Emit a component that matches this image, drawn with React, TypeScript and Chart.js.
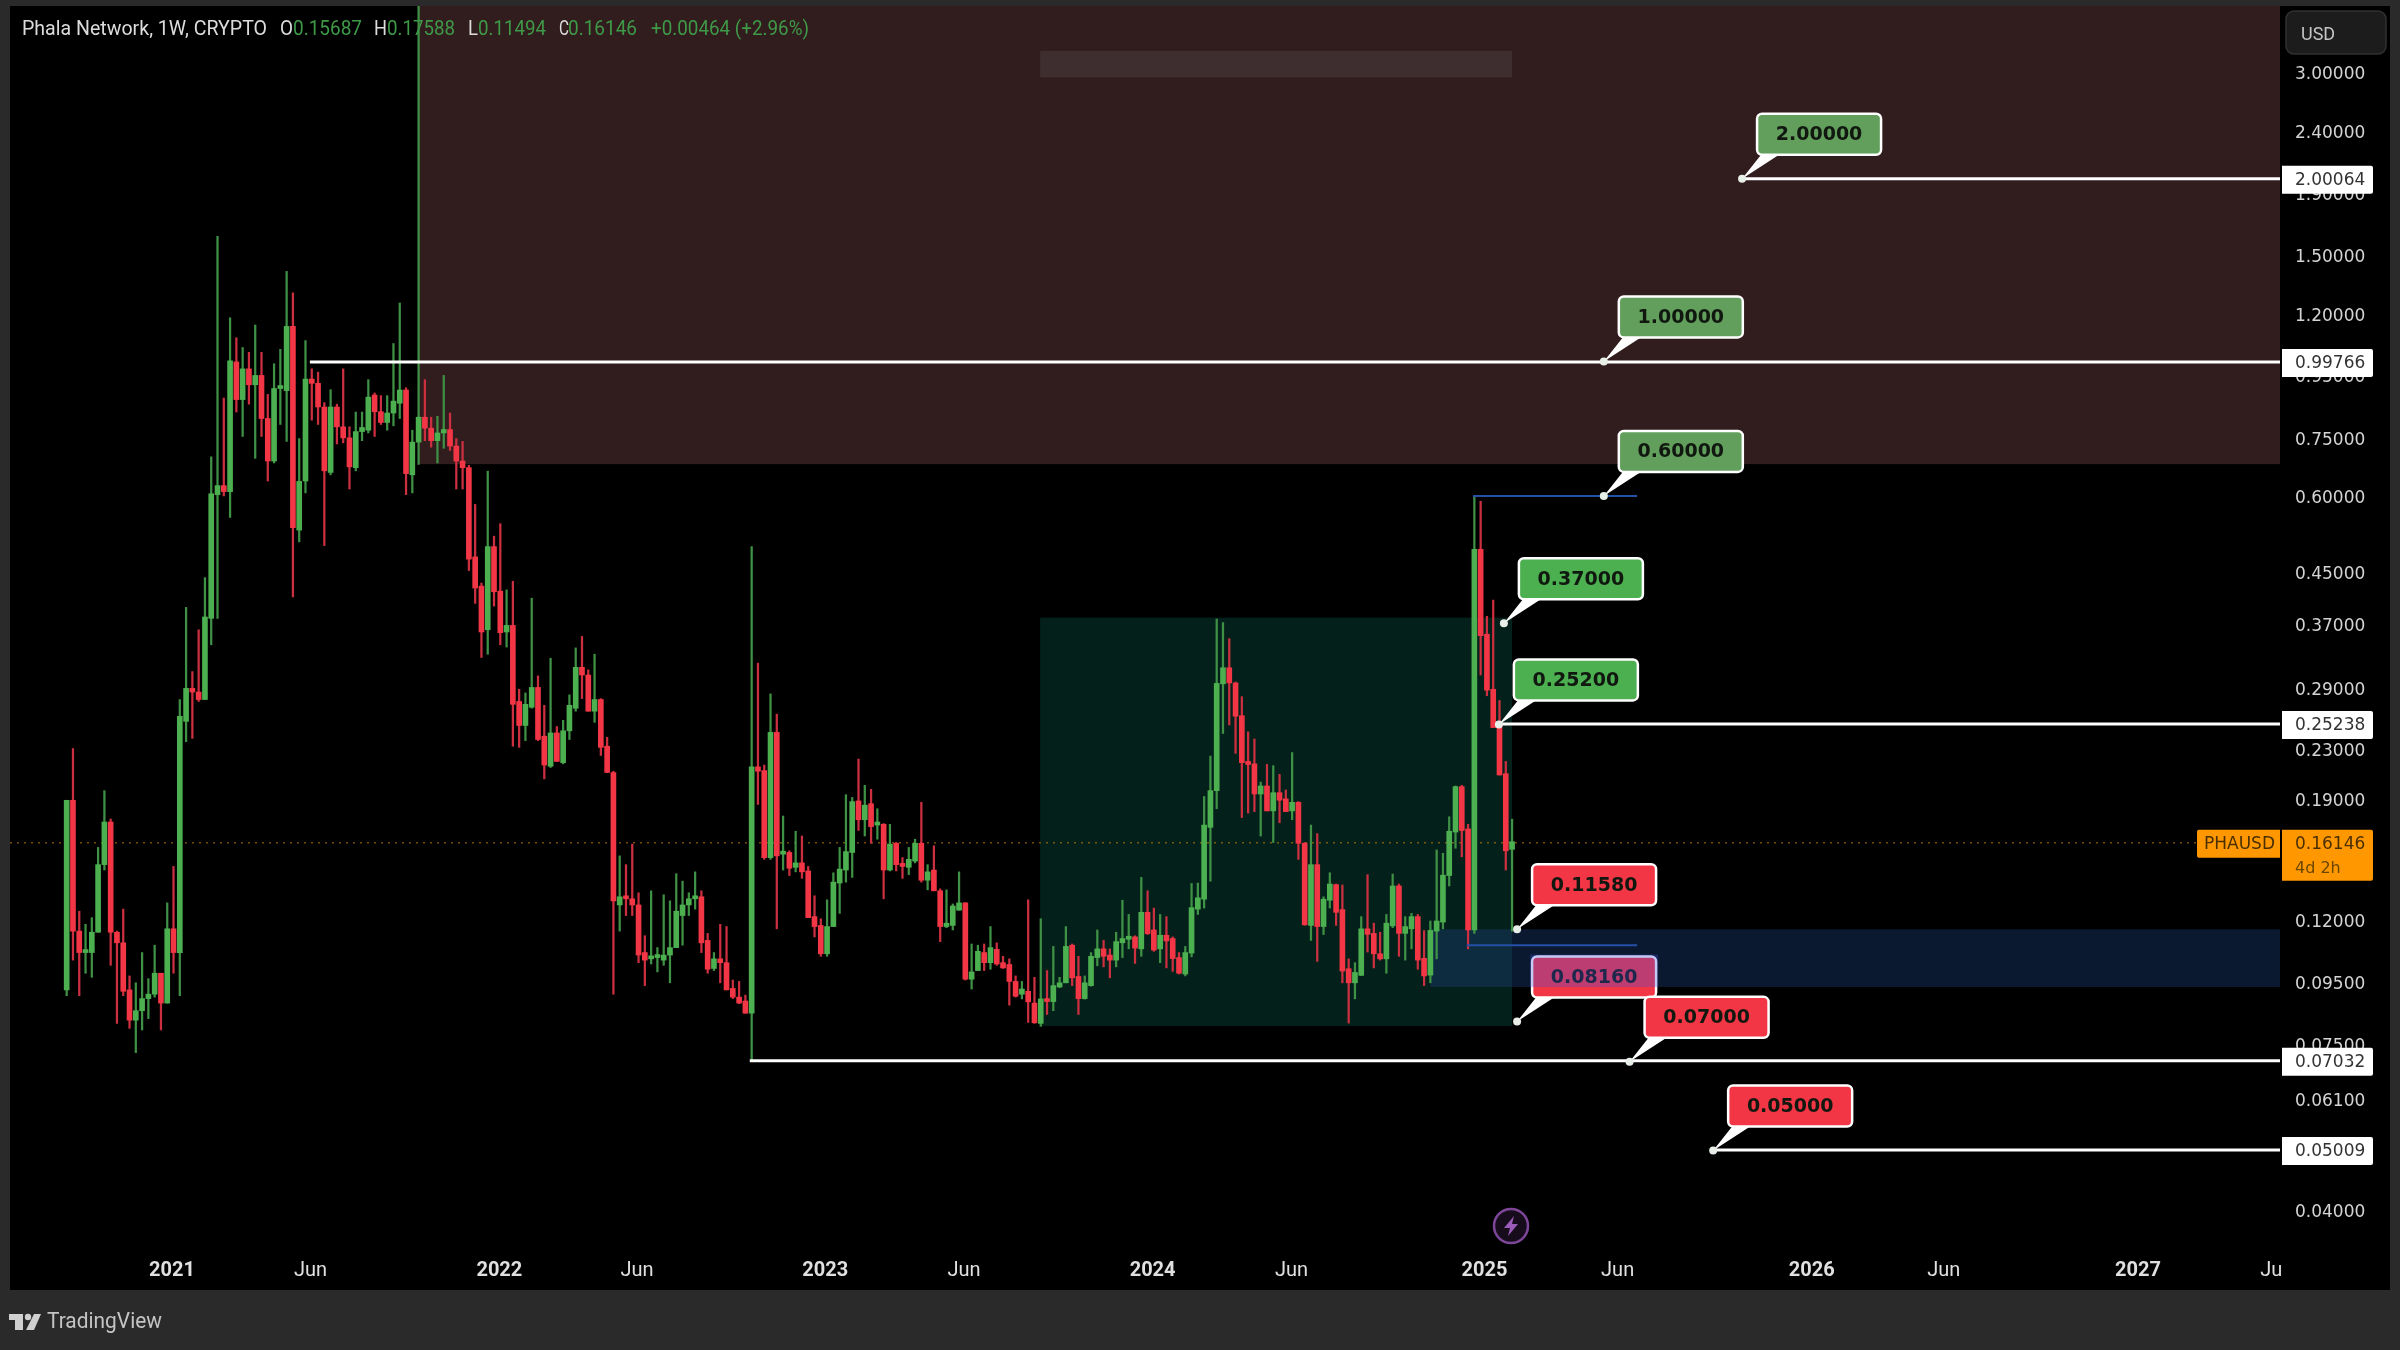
import React, { useEffect, useRef } from "react";
import { Chart, registerables } from "chart.js";

Chart.register(...registerables);

const opens = [
  .092,.189,.115,.106,.106,.1145,.148,.174,.1145,.110,
  .092,.082,.085,.089,.0905,.098,.0875,.116,.106,.255,
  .289,.285,.277,.377,.603,.624,.61,.998,.865,.972,
  .915,.948,.805,.685,.902,.895,1.142,.527,.635,.935,
  .92,.841,.656,.841,.780,.748,.668,.766,.770,.880,
  .826,.793,.822,.853,.897,.650,.736,.809,.776,.740,
  .762,.772,.725,.685,.668,.476,.426,.361,.495,.418,
  .358,.367,.275,.251,.269,.290,.241,.215,.244,.218,
  .246,.268,.313,.304,.265,.277,.232,.21,.127,.131,
  .130,.127,.106,.1035,.104,.103,.105,.108,.122,.127,
  .130,.131,.111,.0998,.1035,.102,.0925,.0895,.0882,.0842,
  .2145,.2115,.152,.2445,.154,.155,.1465,.149,.1445,.1215,
  .1175,.1055,.117,.138,.145,.155,.1885,.1755,.1865,.172,
  .1725,.145,.1605,.148,.1465,.15,.1605,.1395,.145,.134,
  .117,.1175,.1245,.128,.0958,.099,.106,.102,.1073,.102,
  .1013,.095,.0905,.0915,.0875,.081,.0885,.088,.093,.0945,
  .109,.0968,.089,.0935,.104,.1075,.105,.103,.11,.1115,
  .1125,.1075,.1235,.1155,.1075,.1132,.1118,.104,.0977,.1058,
  .125,.1298,.1705,.196,.294,.3125,.295,.2605,.2185,.217,
  .1935,.1995,.1815,.1945,.19,.1815,.1875,.1605,.1175,.148,
  .117,.1293,.1372,.1248,.0997,.0945,.0972,.116,.114,.1055,
  .1035,.1173,.1365,.114,.116,.1215,.1037,.0973,.115,.119,
  .142,.1675,.199,.1695,.1155,.49,.355,.288,.255,.209,
  .15687,
];
const highs = [
  .189,.230,.124,.118,.121,.158,.196,.176,.115,.125,
  .097,.0945,.106,.096,.109,.098,.128,.147,.277,.393,
  .308,.361,.440,.696,1.607,.870,1.180,1.094,1.054,1.035,
  1.148,1.035,.882,.991,1.047,1.407,1.297,.746,1.082,.972,
  .960,.855,.898,.850,.972,.780,.825,.825,.933,.887,
  .878,.878,1.070,1.248,.905,.770,3.9,.933,.809,.812,
  .948,.822,.746,.738,.674,.581,.431,.659,.515,.540,
  .420,.434,.288,.284,.407,.303,.271,.324,.25,.256,
  .282,.337,.352,.31,.329,.278,.240,.211,.153,.148,
  .160,.133,.113,.134,.108,.132,.129,.143,.139,.133,
  .144,.134,.114,.106,.118,.117,.0955,.095,.0902,.495,
  .318,.216,.283,.262,.178,.156,.168,.165,.147,.1315,
  .1205,.1295,.1435,.158,.193,.191,.221,.2,.197,.183,
  .173,.1725,.161,.152,.158,.163,.1875,.148,.159,.135,
  .1345,.1275,.144,.1282,.1095,.109,.1095,.117,.110,.1045,
  .1035,.097,.095,.1295,.0965,.1205,.099,.1085,.0965,.117,
  .1095,.1045,.097,.106,.1155,.111,.1075,.1145,.1293,.1225,
  .113,.141,.134,.1255,.1225,.1215,.1125,.106,.1085,.1378,
  .138,.1917,.2235,.376,.371,.349,.296,.28,.245,.2385,
  .2025,.2165,.2155,.2085,.1965,.2265,.188,.161,.172,.1665,
  .131,.1435,.1375,.137,.1035,.102,.1215,.1425,.1185,.1145,
  .1225,.1428,.1375,.1215,.123,.1225,.1152,.1195,.1565,.1545,
  .1775,.1995,.2,.1725,.60,.588,.380,.404,.276,.219,
  .17588,
];
const lows = [
  .090,.103,.090,.098,.0965,.1145,.145,.101,.081,.090,
  .0795,.0725,.079,.0825,.0895,.079,.0875,.098,.090,.236,
  .239,.275,.277,.341,.377,.600,.553,.825,.752,.850,
  .692,.752,.635,.680,.787,.738,.409,.504,.607,.800,
  .787,.497,.650,.731,.734,.616,.660,.740,.762,.752,
  .787,.770,.783,.805,.603,.607,.676,.740,.722,.680,
  .719,.713,.616,.616,.452,.399,.325,.329,.395,.341,
  .338,.232,.231,.237,.268,.237,.205,.214,.219,.217,
  .238,.265,.278,.265,.254,.224,.21,.0905,.115,.122,
  .122,.102,.0935,.1015,.0985,.101,.0945,.108,.109,.122,
  .125,.106,.098,.099,.0945,.092,.089,.0873,.0842,.0703,
  .186,.151,.151,.116,.145,.142,.144,.1405,.121,.1125,
  .1045,.1045,.117,.123,.1385,.141,.1685,.165,.1605,.163,
  .130,.1445,.1445,.1405,.1425,.149,.1385,.1345,.134,.1105,
  .1165,.1155,.1245,.0955,.0923,.099,.099,.0995,.101,.0998,
  .0868,.0895,.0889,.0813,.081,.0801,.0838,.085,.0928,.0945,
  .0935,.0838,.0888,.0933,.1008,.1004,.0963,.1004,.104,.1075,
  .1017,.1045,.1135,.1065,.102,.100,.0987,.0977,.097,.1043,
  .1225,.1255,.139,.183,.2435,.2515,.2258,.177,.18,.181,
  .165,.1815,.161,.1735,.181,.1755,.151,.1175,.111,.1025,
  .1135,.1255,.1175,.0945,.0811,.0889,.0972,.1062,.100,.103,
  .098,.1165,.1045,.103,.1075,.0995,.0935,.0945,.1035,.116,
  .1365,.1575,.1525,.1075,.114,.304,.281,.249,.208,.145,
  .11494,
];
const closes = [
  .189,.115,.106,.1065,.1145,.148,.174,.1145,.110,.0915,
  .082,.085,.089,.0905,.098,.0875,.116,.106,.26,.289,
  .285,.277,.379,.605,.624,.61,1.002,.865,.972,.915,
  .948,.805,.685,.902,.905,1.142,.532,.634,.935,.92,
  .841,.660,.841,.780,.748,.670,.766,.778,.873,.826,
  .793,.822,.860,.897,.653,.736,.809,.776,.740,.762,
  .772,.725,.685,.668,.472,.423,.358,.495,.417,.357,
  .367,.272,.251,.272,.290,.238,.216,.244,.219,.246,
  .271,.313,.304,.265,.277,.231,.21,.129,.131,.130,
  .127,.105,.103,.1042,.105,.105,.108,.124,.127,.130,
  .1305,.110,.0995,.1035,.102,.092,.0895,.0875,.0842,.2145,
  .211,.152,.2445,.153,.155,.146,.149,.144,.121,.117,
  .1055,.117,.1385,.1455,.1555,.188,.1755,.1855,.171,.1725,
  .145,.160,.148,.147,.151,.1605,.1395,.144,.134,.117,
  .1185,.1265,.128,.0958,.0985,.1065,.102,.108,.1015,.1,
  .095,.0898,.0923,.0879,.0812,.0889,.088,.0935,.0945,.1085,
  .0963,.089,.0945,.1045,.1075,.1045,.103,.1105,.1118,.1125,
  .1078,.1235,.1139,.107,.1132,.1108,.1036,.098,.106,.1257,
  .1305,.172,.196,.2945,.3125,.295,.26,.218,.2165,.1935,
  .1995,.1815,.1945,.189,.181,.1875,.1605,.1178,.148,.117,
  .1298,.1375,.1235,.0988,.0945,.0983,.116,.1136,.1055,.1035,
  .1185,.1365,.114,.117,.1215,.103,.097,.1153,.1195,.1422,
  .168,.199,.1685,.1155,.49,.353,.287,.249,.208,.156,
  .16146,
];

// Price axis
const priceTicks = [3, 2.4, 1.9, 1.5, 1.2, 0.95, 0.75, 0.6, 0.45, 0.37, 0.29, 0.23, 0.19, 0.15, 0.12, 0.095, 0.075, 0.061, 0.05, 0.04];
const PRICE_MIN = 0.03427;
const PRICE_MAX = 3.854;

// Time axis, in weeks from the first candle
const timeTickWeeks = [16.75, 38.8, 68.85, 90.75, 120.7, 142.8, 172.8, 194.9, 225.6, 246.8, 277.7, 298.7, 329.6, 350.8];
const timeTickLabels = ["2021", "Jun", "2022", "Jun", "2023", "Jun", "2024", "Jun", "2025", "Jun", "2026", "Jun", "2027", "Ju"];
const WEEK_MIN = -9.02;
const WEEK_MAX = 352.2;

// White horizontal levels
const levelPrices = [2.00064, 0.99766, 0.25238, 0.07032, 0.05009];
const levelStartWeeks = [266.5, 38.7, 228, 108.7, 262];

// Blue range lines
const rangePrices = [0.6, 0.109];
const rangeStartWeeks = [223.8, 222.8];
const rangeEndWeek = 249.9;

// Shaded zones
const zoneNames = ["red", "gray", "green", "blue"];
const zoneStartWeeks = [56, 154.9, 154.9, 217];
const zoneEndWeeks = [WEEK_MAX, 230, 230, WEEK_MAX];
const zoneTopPrices = [PRICE_MAX, 3.25, 0.378, 0.1158];
const zoneBottomPrices = [0.677, 2.94, 0.0802, 0.093];
const zoneColors = ["#311c1e", "#3e2e30", "#04201a", "rgba(30,65,125,0.38)"];

// Callouts
const calloutLabels = ["2.00000", "1.00000", "0.60000", "0.37000", "0.25200", "0.11580", "0.08160", "0.07000", "0.05000"];
const calloutWeeks = [266.6, 244.6, 244.6, 228.7, 227.9, 230.8, 230.8, 248.7, 262];
const calloutPrices = [2.0, 1.0, 0.6, 0.37, 0.252, 0.1158, 0.0816, 0.07, 0.05];
const calloutColors = ["#629f5c", "#629f5c", "#629f5c", "#4caf50", "#4caf50", "#f23645", "#f23645", "#f23645", "#f23645"];

const lastPrice = 0.16146;
const headerParts: [string, number, number, string][] = [
  ["Phala Network, 1W, CRYPTO", 22, 245, "#dcdcdc"],
  ["O", 280, 13, "#dcdcdc"],
  ["0.15687", 293, 69, "#3f9a48"],
  ["H", 374, 13, "#dcdcdc"],
  ["0.17588", 387, 68, "#3f9a48"],
  ["L", 468, 10, "#dcdcdc"],
  ["0.11494", 478, 68, "#3f9a48"],
  ["C", 559, 10, "#dcdcdc"],
  ["0.16146", 568, 69, "#3f9a48"],
  ["+0.00464 (+2.96%)", 651, 158, "#3f9a48"],
];

const GREEN = "#4caf50";
const RED = "#f23645";
const DEJAVU = '"DejaVu Sans"';

const overlayPlugin = {
  id: "overlay",
  beforeDraw(chart: any) {
    const { ctx } = chart;
    ctx.save();
    ctx.fillStyle = "#2a2a2a";
    ctx.fillRect(0, 0, 2400, 1350);
    ctx.fillStyle = "#000";
    ctx.fillRect(10, 6, 2380, 1284);
    ctx.restore();
  },
  beforeDatasetsDraw(chart: any) {
    const { ctx, scales, chartArea } = chart;
    const { x, y } = scales;
    ctx.save();
    zoneNames.forEach((_, i) => {
      const l = x.getPixelForValue(zoneStartWeeks[i]);
      const r = x.getPixelForValue(zoneEndWeeks[i]);
      const t = y.getPixelForValue(zoneTopPrices[i]);
      const b = y.getPixelForValue(zoneBottomPrices[i]);
      ctx.fillStyle = zoneColors[i];
      ctx.fillRect(l, t, r - l, b - t);
    });
    const py = y.getPixelForValue(lastPrice) + 1;
    ctx.strokeStyle = "rgba(255,170,0,0.45)";
    ctx.lineWidth = 1.5;
    ctx.setLineDash([2, 5]);
    ctx.beginPath();
    ctx.moveTo(chartArea.left, py);
    ctx.lineTo(2197, py);
    ctx.stroke();
    ctx.restore();
  },
  afterDatasetsDraw(chart: any) {
    const { ctx, scales } = chart;
    const { x, y } = scales;
    ctx.save();
    ctx.textBaseline = "middle";

    // header
    ctx.font = "20px Roboto";
    ctx.textAlign = "left";
    headerParts.forEach(([text, px, w, color]) => {
      ctx.fillStyle = color;
      ctx.fillText(text, px, 30, w);
    });

    // callouts
    calloutLabels.forEach((label, i) => {
      const ax = x.getPixelForValue(calloutWeeks[i]);
      const ay = y.getPixelForValue(calloutPrices[i]);
      const left = ax + 15;
      const w = 124;
      const h = 41;
      const bottom = ay - 24;
      const top = bottom - h;
      ctx.fillStyle = "#ffffff";
      ctx.beginPath();
      ctx.moveTo(ax, ay);
      ctx.lineTo(left + 4, bottom);
      ctx.lineTo(left + 22, bottom);
      ctx.closePath();
      ctx.fill();
      ctx.beginPath();
      ctx.arc(ax, ay, 4, 0, Math.PI * 2);
      ctx.fillStyle = "#e8efe8";
      ctx.fill();
      ctx.beginPath();
      ctx.roundRect(left, top, w, h, 5);
      ctx.fillStyle = calloutColors[i];
      ctx.fill();
      ctx.strokeStyle = "#ffffff";
      ctx.lineWidth = 2.5;
      ctx.stroke();
      ctx.fillStyle = "#10180f";
      ctx.font = `bold 19px ${DEJAVU}`;
      ctx.textAlign = "center";
      ctx.fillText(label, left + w / 2, top + h / 2 + 1);
      // the blue zone lies over the part of this label that it crosses
      if (label === "0.08160") {
        const zb = y.getPixelForValue(zoneBottomPrices[3]);
        ctx.fillStyle = "rgba(60,80,220,0.3)";
        ctx.fillRect(left - 2, top - 2, w + 4, zb - top + 2);
      }
    });

    // last price tags
    const py = y.getPixelForValue(lastPrice) + 2;
    ctx.fillStyle = "#ff9800";
    ctx.beginPath();
    ctx.roundRect(2197, py - 14, 83, 28, [2, 0, 0, 2]);
    ctx.fill();
    ctx.beginPath();
    ctx.roundRect(2282, py - 14, 91, 51, [0, 2, 2, 0]);
    ctx.fill();
    ctx.textAlign = "left";
    ctx.font = `17px ${DEJAVU}`;
    ctx.fillStyle = "#4a3000";
    ctx.fillText("PHAUSD", 2204, py + 1);
    ctx.fillText("0.16146", 2295, py + 1);
    ctx.font = `16px ${DEJAVU}`;
    ctx.fillStyle = "#6b4600";
    ctx.fillText("4d 2h", 2295, py + 25);

    // level tags
    levelPrices.forEach((price) => {
      const ly = y.getPixelForValue(price);
      ctx.fillStyle = "#ffffff";
      ctx.beginPath();
      ctx.roundRect(2282, ly - 13, 91, 28, [0, 2, 2, 0]);
      ctx.fill();
      ctx.fillStyle = "#333333";
      ctx.font = `17px ${DEJAVU}`;
      ctx.fillText(price.toFixed(5), 2295, ly + 2);
    });

    // currency button
    ctx.beginPath();
    ctx.roundRect(2286, 11, 100, 43, 8);
    ctx.fillStyle = "#1c1c1c";
    ctx.fill();
    ctx.strokeStyle = "#303030";
    ctx.lineWidth = 1.5;
    ctx.stroke();
    ctx.fillStyle = "#c4c4c4";
    ctx.font = "18px Roboto";
    ctx.fillText("USD", 2301, 35);

    // event marker
    ctx.beginPath();
    ctx.arc(1511, 1226, 17, 0, Math.PI * 2);
    ctx.fillStyle = "#170c1c";
    ctx.fill();
    ctx.strokeStyle = "#7d4698";
    ctx.lineWidth = 2.5;
    ctx.stroke();
    ctx.fillStyle = "#9a5cb8";
    ctx.beginPath();
    ctx.moveTo(1514, 1216);
    ctx.lineTo(1504, 1228);
    ctx.lineTo(1510, 1228);
    ctx.lineTo(1508, 1236);
    ctx.lineTo(1518, 1224);
    ctx.lineTo(1512, 1224);
    ctx.closePath();
    ctx.fill();

    // footer
    ctx.fillStyle = "#d0d0d0";
    ctx.fillRect(9, 1314, 14, 6);
    ctx.fillRect(15, 1314, 8, 16);
    ctx.beginPath();
    ctx.arc(28, 1317, 3.2, 0, Math.PI * 2);
    ctx.fill();
    ctx.beginPath();
    ctx.moveTo(34, 1314);
    ctx.lineTo(41, 1314);
    ctx.lineTo(34, 1330);
    ctx.lineTo(26, 1330);
    ctx.closePath();
    ctx.fill();
    ctx.fillStyle = "#c4c4c4";
    ctx.font = "22px Roboto";
    ctx.fillText("TradingView", 47, 1322, 115);
    ctx.restore();
  },
};

export default function App() {
  const ref = useRef<HTMLCanvasElement>(null);
  useEffect(() => {
    document.body.style.margin = "0";
    document.body.style.background = "#2a2a2a";
    const up = closes.map((c, i) => c >= opens[i]);
    const levelSets = levelPrices.map((price, i) => ({
      type: "line" as const,
      data: [{ x: levelStartWeeks[i], y: price }, { x: WEEK_MAX, y: price }],
      borderColor: "#ffffff",
      borderWidth: 3,
      pointRadius: 0,
      order: 0,
    }));
    const rangeSets = rangePrices.map((price, i) => ({
      type: "line" as const,
      data: [{ x: rangeStartWeeks[i], y: price }, { x: rangeEndWeek, y: price }],
      borderColor: "#2450a8",
      borderWidth: 2,
      pointRadius: 0,
      order: 0,
    }));
    const chart = new Chart(ref.current!, {
      type: "bar",
      data: {
        datasets: [
          ...levelSets,
          ...rangeSets,
          {
            type: "bar" as const,
            data: opens.map((o, i) => ({ x: i, y: [Math.min(o, closes[i]), Math.max(o, closes[i])] })),
            backgroundColor: up.map((u) => (u ? GREEN : RED)),
            barThickness: 5,
            minBarLength: 3,
            grouped: false,
            order: 1,
          },
          {
            type: "bar" as const,
            data: lows.map((l, i) => ({ x: i, y: [l, highs[i]] })),
            backgroundColor: up.map((u) => (u ? "#3f9145" : "#cc3040")),
            barThickness: 1.6,
            grouped: false,
            order: 2,
          },
        ] as any,
      },
      options: {
        animation: false,
        responsive: false,
        devicePixelRatio: 1,
        layout: { autoPadding: false, padding: { left: 10, top: 6, right: 10, bottom: 60 } },
        plugins: { legend: { display: false }, tooltip: { enabled: false } },
        events: [],
        scales: {
          x: {
            type: "linear",
            min: WEEK_MIN,
            max: WEEK_MAX,
            offset: false,
            bounds: "data",
            grid: { display: false, drawTicks: false },
            border: { display: false },
            afterFit: (axis: any) => {
              axis.height = 40;
              axis.paddingLeft = 0;
              axis.paddingRight = 0;
            },
            afterBuildTicks: (axis: any) => {
              axis.ticks = timeTickWeeks.map((value) => ({ value }));
            },
            ticks: {
              autoSkip: false,
              maxRotation: 0,
              minRotation: 0,
              padding: 9,
              color: "#e0e0e0",
              font: (c: any) => ({
                family: "Roboto",
                size: 20,
                weight: /^\d/.test(timeTickLabels[c.index] ?? "") ? "bold" : "normal",
              }),
              callback: (_v: any, i: number) => timeTickLabels[i],
            },
          },
          y: {
            type: "logarithmic",
            position: "right",
            min: PRICE_MIN,
            max: PRICE_MAX,
            bounds: "data",
            grid: { display: false, drawTicks: false },
            border: { display: false },
            afterFit: (axis: any) => {
              axis.width = 110;
              axis.paddingTop = 0;
              axis.paddingBottom = 0;
            },
            afterBuildTicks: (axis: any) => {
              axis.ticks = priceTicks.map((value) => ({ value }));
            },
            ticks: {
              autoSkip: false,
              padding: 15,
              labelOffset: 3,
              color: "#d4d4d4",
              font: { family: "DejaVu Sans", size: 17 },
              callback: (v: any) => Number(v).toFixed(5),
            },
          },
        },
      } as any,
      plugins: [overlayPlugin],
    });
    return () => chart.destroy();
  }, []);
  return (
    <div style={{ position: "fixed", left: 0, top: 0, width: 2400, height: 1350 }}>
      <canvas ref={ref} width={2400} height={1350} style={{ display: "block" }} />
    </div>
  );
}
